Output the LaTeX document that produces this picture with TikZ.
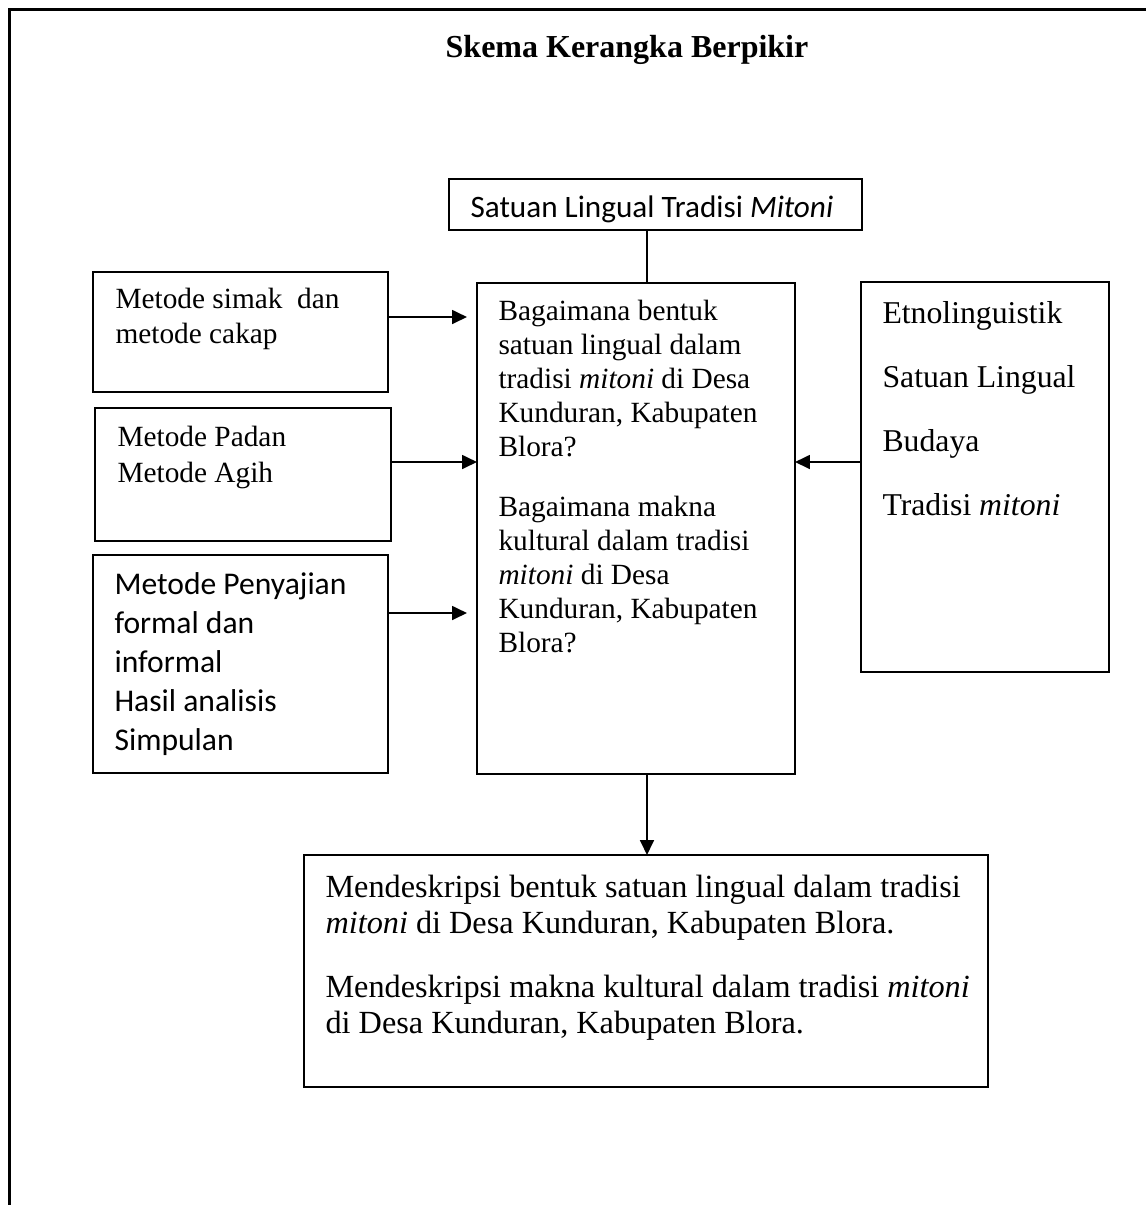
\documentclass[tikz,border=0pt]{standalone}
\usepackage{fontspec}
\setmainfont{Liberation Serif}
\newfontfamily\calibri{Carlito}
\usetikzlibrary{arrows.meta, calc, positioning}

\begin{document}
\begin{tikzpicture}[
    x=0.375pt, y=-0.375pt,
    kotak/.style 2 args={draw, line width=0.7pt, inner sep=0pt, outer sep=0pt,
        anchor=north west, minimum width=#1*0.375pt, minimum height=#2*0.375pt},
    isi/.style={anchor=base west, align=left, inner sep=0pt},
    panah/.style={-{Triangle[length=5.6pt, width=5.2pt]}, line width=0.75pt},
    garis/.style={line width=0.75pt},
    bingkai/.style={line width=1.2pt}
]
\useasboundingbox (0,0) rectangle (1146,1205);
\draw[bingkai] (9.5,1205) -- (9.5,9.5) -- (1146,9.5);

\node[font=\fontsize{12}{14}\selectfont\bfseries, anchor=base, inner sep=0pt]
    (judul) at (627,57) {Skema Kerangka Berpikir};

% text nodes sit on the baseline of their last line
\node[kotak={413}{51}] (satuan) at (449,179) {};
\node[isi, font=\calibri\fontsize{11.7}{14}\selectfont]
    (satuan-teks) at (470,217) {Satuan Lingual Tradisi \textit{Mitoni}};

%
\node[kotak={295}{120}] (simak) at (93,272) {};
\node[isi, font=\fontsize{11}{13.3}\selectfont]
    (simak-teks) at (115,343.5) {Metode simak\ \ dan\\metode cakap};

\node[kotak={296}{133}] (padan) at (95,408) {};
\node[isi, font=\fontsize{11}{13.5}\selectfont]
    (padan-teks) at (117,482) {Metode Padan\\Metode Agih};

\node[kotak={295}{218}] (sajian) at (93,555) {};
\node[isi, font=\calibri\fontsize{11.85}{14.6}\selectfont]
    (sajian-teks) at (114,750) {Metode Penyajian\\formal dan\\informal\\Hasil analisis\\Simpulan};

%
\node[kotak={318}{491}] (masalah) at (477,283) {};
\node[isi, font=\fontsize{11}{12.75}\selectfont]
    (masalah-teks) at (498,652) {Bagaimana bentuk\\satuan lingual dalam\\tradisi \textit{mitoni} di Desa\\Kunduran, Kabupaten\\Blora?\\[9.75pt]
    Bagaimana makna\\kultural dalam tradisi\\\textit{mitoni} di Desa\\Kunduran, Kabupaten\\Blora?};

%
\node[kotak={248}{390}] (teori) at (861,282) {};
\node[isi, font=\fontsize{11.9}{24}\selectfont]
    (teori-teks) at (882,515) {Etnolinguistik\\Satuan Lingual\\Budaya\\Tradisi \textit{mitoni}};

%
\node[kotak={684}{232}] (tujuan) at (304,855) {};
\node[isi, font=\fontsize{12.1}{13.5}\selectfont]
    (tujuan-teks) at (325,1033) {Mendeskripsi bentuk satuan lingual dalam tradisi\\\textit{mitoni} di Desa Kunduran, Kabupaten Blora.\\[10.5pt]
    Mendeskripsi makna kultural dalam tradisi \textit{mitoni}\\di Desa Kunduran, Kabupaten Blora.};

%
\coordinate (poros) at ($(masalah.north)+(11,0)$);
\draw[garis] (poros |- satuan.south) -- (poros);
\draw[panah] ($(masalah.south)+(11,0)$) coordinate (m-bawah) -- (m-bawah |- tujuan.north);

\draw[panah, shorten >=3.75pt] ($(simak.east)+(0,-15)$) coordinate (a-simak) -- (a-simak -| masalah.west);
\draw[panah] ($(padan.east)+(0,-12.5)$) coordinate (a-padan) -- (a-padan -| masalah.west);
\draw[panah, shorten >=3.75pt] ($(sajian.east)+(0,-51)$) coordinate (a-sajian) -- (a-sajian -| masalah.west);
\draw[panah] ($(teori.west)+(0,-15)$) coordinate (a-teori) -- (a-teori -| masalah.east);
\end{tikzpicture}
\end{document}
